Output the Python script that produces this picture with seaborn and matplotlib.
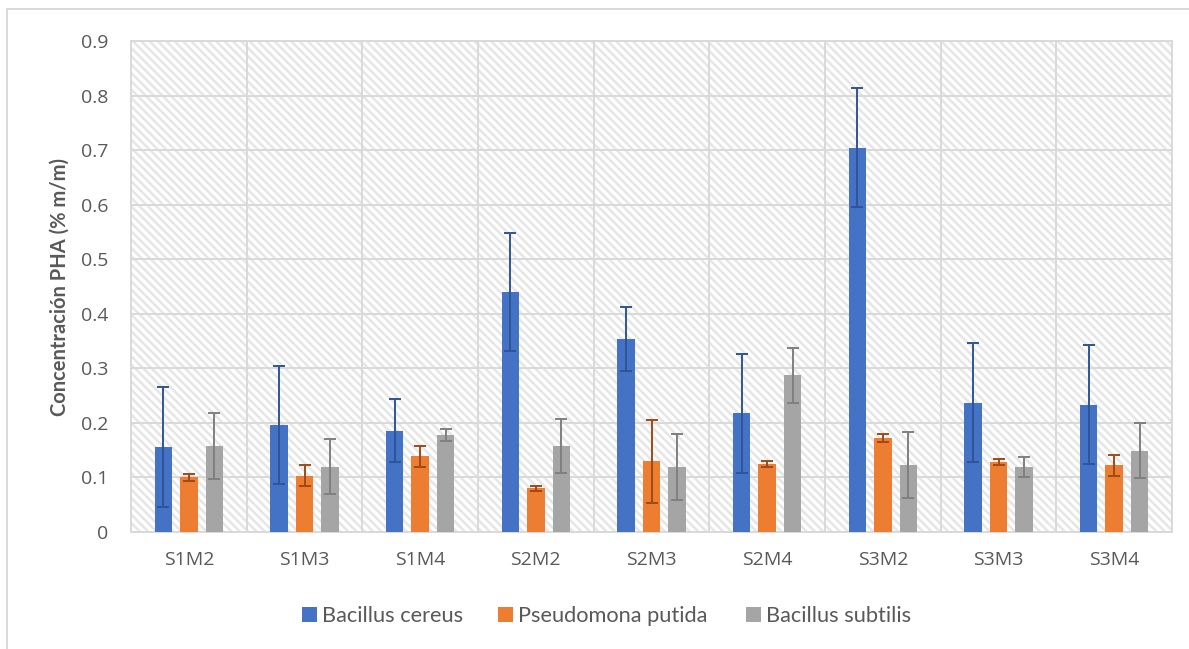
import matplotlib
matplotlib.use("Agg")
import matplotlib.pyplot as plt
from matplotlib.patches import Rectangle, Patch
from matplotlib.lines import Line2D
import numpy as np
import pandas as pd
import seaborn as sns

# Samples (strain x medium combinations)
categories = ["S1M2", "S1M3", "S1M4", "S2M2", "S2M3", "S2M4", "S3M2", "S3M3", "S3M4"]
series_names = ["Bacillus cereus", "Pseudomona putida", "Bacillus subtilis"]

# PHA concentration (% m/m) and standard deviation per organism
cereus = [0.155, 0.196, 0.186, 0.440, 0.354, 0.218, 0.704, 0.237, 0.233]
cereus_err = [0.110, 0.108, 0.058, 0.108, 0.058, 0.109, 0.109, 0.109, 0.109]
putida = [0.100, 0.103, 0.139, 0.080, 0.130, 0.125, 0.172, 0.128, 0.122]
putida_err = [0.007, 0.019, 0.019, 0.005, 0.076, 0.005, 0.007, 0.005, 0.019]
subtilis = [0.158, 0.120, 0.178, 0.158, 0.119, 0.287, 0.123, 0.119, 0.149]
subtilis_err = [0.061, 0.050, 0.011, 0.050, 0.060, 0.050, 0.061, 0.018, 0.050]

y_ticks = [0, 0.1, 0.2, 0.3, 0.4, 0.5, 0.6, 0.7, 0.8, 0.9]
y_tick_labels = ["0", "0.1", "0.2", "0.3", "0.4", "0.5", "0.6", "0.7", "0.8", "0.9"]

bar_colors = ["#4472C4", "#ED7D31", "#A5A5A5"]
err_colors = ["#2F5597", "#9E4A17", "#7F7F7F"]
grid_color = "#D9D9D9"
hatch_color = "#E6E6E6"
text_color = "#595959"

values = [cereus, putida, subtilis]
errors = [cereus_err, putida_err, subtilis_err]

df = pd.DataFrame({
    "muestra": np.tile(categories, len(series_names)),
    "organismo": np.repeat(series_names, len(categories)),
    "pha": np.concatenate(values),
})

sns.set_theme(style="white")
plt.rcParams["font.family"] = ["Open Sans", "DejaVu Sans"]
plt.rcParams["hatch.color"] = hatch_color
plt.rcParams["hatch.linewidth"] = 1.8

fig = plt.figure(figsize=(11.89, 6.49), dpi=100)
ax = fig.add_axes([131 / 1189, 1 - 532 / 649, (1172 - 131) / 1189, (532 - 41) / 649])

# Patterned plot-area background
ax.add_patch(Rectangle((0, 0), 1, 1, transform=ax.transAxes, facecolor="white",
                       edgecolor=hatch_color, linewidth=0, hatch="\\\\\\\\", zorder=0.5))

sns.barplot(data=df, x="muestra", y="pha", hue="organismo", hue_order=series_names,
            order=categories, palette=bar_colors, saturation=1, width=0.66, gap=0.31,
            errorbar=None, ax=ax, zorder=3, linewidth=0)

# Standard-deviation whiskers centred on each bar
for container, errs, ec in zip(ax.containers, errors, err_colors):
    xs = [b.get_x() + b.get_width() / 2 for b in container]
    hs = [b.get_height() for b in container]
    ax.errorbar(xs, hs, yerr=errs, fmt="none", ecolor=ec, elinewidth=1.4,
                capsize=4.5, capthick=1.4, zorder=4)

ax.set_xlim(-0.5, len(categories) - 0.5)
ax.set_ylim(0, 0.9)
ax.set_yticks(y_ticks)
ax.set_yticklabels(y_tick_labels)

# Gridlines: horizontal at each tick, vertical between sample groups
for yv in y_ticks[1:]:
    ax.axhline(yv, color=grid_color, lw=1.4, zorder=1)
for xv in np.arange(0.5, len(categories) - 0.5, 1):
    ax.axvline(xv, color=grid_color, lw=1.4, zorder=1)

for side in ["top", "right", "left", "bottom"]:
    ax.spines[side].set_visible(True)
    ax.spines[side].set_color(grid_color)
    ax.spines[side].set_linewidth(1.4)

ax.tick_params(axis="both", length=0, labelsize=14, colors=text_color)
ax.tick_params(axis="y", pad=16.5)
ax.tick_params(axis="x", pad=14)
ax.set_xlabel("")
ax.set_ylabel("Concentración PHA (% m/m)", fontsize=14.5, fontweight="bold",
              color=text_color, family=["Lato", "DejaVu Sans"], labelpad=8)

if ax.get_legend() is not None:
    ax.get_legend().remove()

# Legend entries laid out in slots along the bottom
legend_left = [302, 498, 746]
for name, color, xl in zip(series_names, bar_colors, legend_left):
    fig.legend([Patch(facecolor=color, edgecolor="none")], [name], loc="center left",
               bbox_to_anchor=(xl / 1189, 1 - 616 / 649), frameon=False,
               handlelength=0.68, handleheight=0.68, handletextpad=0.25,
               borderpad=0, borderaxespad=0,
               prop={"family": ["Lato", "DejaVu Sans"], "size": 15.7},
               labelcolor=text_color)

# Outer chart frame
fig.add_artist(Line2D([7 / 1189, 7 / 1189], [0, 1 - 9 / 649], transform=fig.transFigure,
                      color=grid_color, lw=1.4))
fig.add_artist(Line2D([7 / 1189, 1], [1 - 9 / 649, 1 - 9 / 649], transform=fig.transFigure,
                      color=grid_color, lw=1.4))

fig.savefig("out.png", dpi=100, facecolor="white")
